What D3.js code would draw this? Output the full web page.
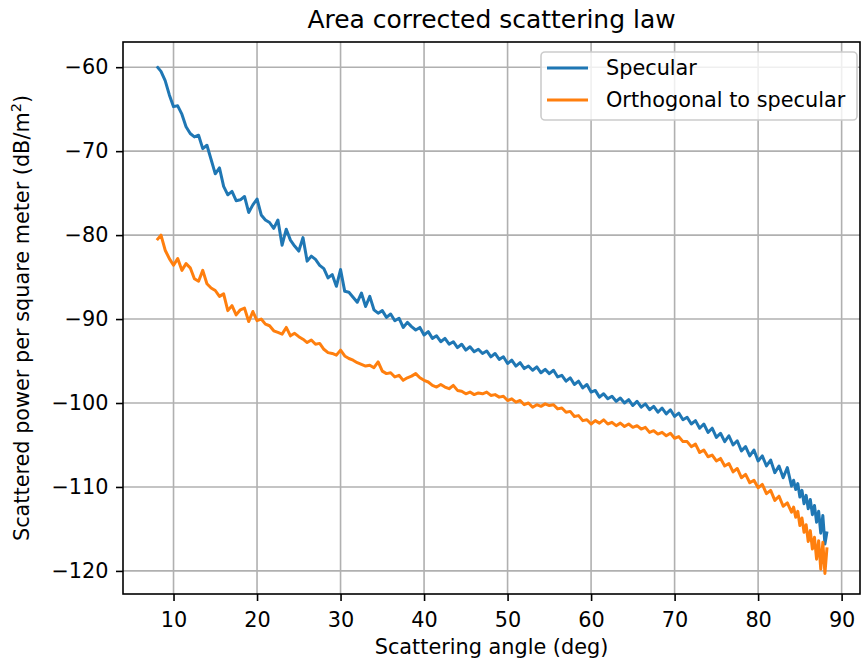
<!DOCTYPE html>
<html>
<head>
<meta charset="utf-8">
<script src="https://cdn.jsdelivr.net/npm/d3@7"></script>
<style>
  html, body { margin: 0; padding: 0; background: #fff; }
  text { font-family: "DejaVu Sans", sans-serif; }
</style>
</head>
<body>
<svg id="chart" width="861" height="662"></svg>
<script>
// ---- data ----
// samples every 0.5 deg from 8 to 84 deg, then every 0.25 deg from 84.25 to 88.25 deg
const coarseAngles = d3.range(8, 84.01, 0.5);
const fineAngles = d3.range(84.25, 88.3, 0.25);

const specular = [
  -59.9, -60.5, -61.6, -63.3, -64.7, -64.6, -65.6, -67.1, -67.9, -68.3,
  -68.1, -69.7, -69.3, -71.0, -72.7, -72.0, -74.2, -75.2, -74.8, -75.9,
  -75.8, -75.4, -77.3, -76.4, -75.7, -77.6, -78.2, -78.5, -79.2, -78.2,
  -81.2, -79.3, -80.6, -81.3, -81.9, -80.3, -83.1, -82.5, -82.9, -83.6,
  -84.0, -85.1, -84.7, -86.1, -84.1, -86.7, -86.8, -87.4, -88.0, -86.9,
  -88.5, -87.3, -88.9, -89.3, -89.0, -89.8, -89.4, -90.2, -89.9, -91.0,
  -90.4, -90.9, -91.3, -91.0, -91.9, -91.5, -92.3, -92.0, -92.7, -92.3,
  -93.0, -92.7, -93.4, -93.0, -93.7, -93.3, -93.9, -93.6, -94.1, -93.8,
  -94.5, -94.1, -94.8, -94.5, -95.3, -94.9, -95.6, -95.2, -95.9, -95.6,
  -96.1, -95.7, -96.4, -96.0, -96.5, -96.1, -96.9, -96.7, -97.4, -97.0,
  -97.8, -97.4, -98.2, -97.8, -98.7, -98.5, -99.3, -98.9, -99.5, -99.2,
  -99.8, -99.4, -100.0, -99.6, -100.3, -99.8, -100.5, -100.1, -100.8, -100.4,
  -101.1, -100.6, -101.3, -100.8, -101.6, -101.2, -102.0, -101.7, -102.5, -102.1,
  -103.0, -102.5, -103.5, -103.0, -104.1, -103.6, -104.6, -103.9, -105.0, -104.5,
  -105.7, -105.2, -106.3, -105.6, -106.9, -106.3, -107.5, -106.8, -108.3, -107.5,
  -108.9, -107.7, -109.9,
  -109.2, -110.3, -109.6, -111.2, -110.4, -112.0, -111.0, -112.6, -111.5, -113.3,
  -112.2, -114.2, -112.9, -115.5, -113.4, -116.8, -115.3
];

const orthogonal = [
  -80.6, -80.0, -81.8, -82.8, -83.6, -82.8, -84.2, -83.4, -83.9, -85.2,
  -85.5, -84.2, -85.8, -86.3, -86.6, -87.3, -87.0, -89.0, -88.4, -89.5,
  -88.9, -88.7, -90.3, -89.1, -90.2, -90.0, -90.6, -90.8, -91.4, -91.6,
  -91.8, -91.0, -92.0, -91.7, -92.1, -92.4, -92.8, -92.5, -93.0, -92.9,
  -93.6, -94.0, -94.1, -94.3, -93.7, -94.4, -94.7, -94.9, -95.2, -95.4,
  -95.6, -95.5, -95.8, -95.1, -96.2, -96.5, -96.4, -96.9, -96.7, -97.3,
  -97.0, -96.8, -96.5, -97.0, -97.3, -97.5, -97.9, -98.1, -97.8, -98.1,
  -98.3, -97.9, -98.5, -98.6, -98.9, -98.7, -99.0, -98.8, -98.9, -98.7,
  -99.1, -99.0, -99.3, -99.2, -99.7, -99.5, -99.9, -99.7, -100.2, -100.0,
  -100.5, -100.2, -100.4, -100.1, -100.3, -100.2, -100.7, -100.6, -101.1, -101.0,
  -101.6, -101.5, -102.1, -102.0, -102.5, -102.1, -102.4, -102.0, -102.5, -102.3,
  -102.7, -102.4, -102.8, -102.5, -102.9, -102.7, -103.1, -102.9, -103.5, -103.3,
  -103.7, -103.5, -103.9, -103.6, -104.2, -104.0, -104.6, -104.6, -105.2, -104.9,
  -105.9, -105.6, -106.4, -106.2, -106.9, -106.6, -107.5, -107.2, -108.2, -107.8,
  -108.9, -108.5, -109.5, -109.2, -110.1, -109.7, -110.8, -110.4, -111.6, -111.1,
  -112.3, -111.9, -113.0,
  -112.4, -113.6, -112.9, -114.6, -113.7, -115.4, -114.5, -116.5, -115.2, -117.4,
  -116.0, -118.6, -116.4, -119.8, -116.6, -120.3, -117.2
];

const seriesNames = ["Specular", "Orthogonal to specular"];
const seriesColors = ["#1f77b4", "#ff7f0e"];
const xTicks = [10, 20, 30, 40, 50, 60, 70, 80, 90];
const yTicks = [-60, -70, -80, -90, -100, -110, -120];

const titleText = "Area corrected scattering law";
const xLabelText = "Scattering angle (deg)";

// ---- layout ----
const svg = d3.select("#chart");
const plot = { left: 123, right: 860, top: 42, bottom: 594 };
const FS = 20.8;

const angles = coarseAngles.concat(fineAngles);

const x = d3.scaleLinear().domain([3.95, 92.2]).range([plot.left, plot.right]);
const y = d3.scaleLinear().domain([-122.75, -57.0]).range([plot.bottom, plot.top]);

const fmt = d => (d < 0 ? "\u2212" + Math.abs(d) : String(d));

// grid
const grid = svg.append("g");
grid.selectAll("line.gx").data(xTicks).join("line")
  .attr("x1", d => x(d)).attr("x2", d => x(d))
  .attr("y1", plot.top).attr("y2", plot.bottom)
  .attr("stroke", "#b0b0b0").attr("stroke-width", 1.6);
grid.selectAll("line.gy").data(yTicks).join("line")
  .attr("y1", d => y(d)).attr("y2", d => y(d))
  .attr("x1", plot.left).attr("x2", plot.right)
  .attr("stroke", "#b0b0b0").attr("stroke-width", 1.6);

// lines
const lineGen = d3.line().x(d => x(d[0])).y(d => y(d[1]));
[specular, orthogonal].forEach((vals, k) => {
  svg.append("path")
    .datum(vals.map((v, i) => [angles[i], v]))
    .attr("d", lineGen)
    .attr("fill", "none")
    .attr("stroke", seriesColors[k])
    .attr("stroke-width", 3)
    .attr("stroke-linejoin", "round")
    .attr("stroke-linecap", "butt");
});

// axes
const xAxis = d3.axisBottom(x).tickValues(xTicks).tickSize(7).tickPadding(11).tickFormat(fmt);
const yAxis = d3.axisLeft(y).tickValues(yTicks).tickSize(7).tickPadding(7.5).tickFormat(fmt);

const gx = svg.append("g").attr("transform", `translate(0,${plot.bottom})`).call(xAxis);
const gy = svg.append("g").attr("transform", `translate(${plot.left},0)`).call(yAxis);
[gx, gy].forEach(g => {
  g.select(".domain").remove();
  g.selectAll(".tick line").attr("stroke", "#000").attr("stroke-width", 1.6);
  g.selectAll(".tick text").attr("fill", "#000").style("font-size", FS + "px")
    .style("font-family", "'DejaVu Sans', sans-serif");
});

// frame
svg.append("rect")
  .attr("x", plot.left).attr("y", plot.top)
  .attr("width", plot.right - plot.left).attr("height", plot.bottom - plot.top)
  .attr("fill", "none").attr("stroke", "#000").attr("stroke-width", 1.6);

// title and labels
svg.append("text")
  .attr("x", (plot.left + plot.right) / 2).attr("y", 28)
  .attr("text-anchor", "middle").style("font-size", (FS * 1.2) + "px").attr("fill", "#000")
  .text(titleText);

svg.append("text")
  .attr("x", (plot.left + plot.right) / 2).attr("y", 654)
  .attr("text-anchor", "middle").style("font-size", FS + "px").attr("fill", "#000")
  .text(xLabelText);

const yl = svg.append("text")
  .attr("transform", `translate(29,${(plot.top + plot.bottom) / 2}) rotate(-90)`)
  .attr("text-anchor", "middle").style("font-size", FS + "px").attr("fill", "#000");
yl.append("tspan").text("Scattered power per square meter (dB/m");
yl.append("tspan").attr("dy", -8).style("font-size", (FS * 0.7) + "px").text("2");
yl.append("tspan").attr("dy", 8).text(")");

// legend
const leg = svg.append("g");
leg.append("rect")
  .attr("x", 541).attr("y", 52).attr("width", 316).attr("height", 68)
  .attr("rx", 4).attr("ry", 4)
  .attr("fill", "#fff").attr("fill-opacity", 0.8)
  .attr("stroke", "#cccccc").attr("stroke-width", 1.6);
seriesNames.forEach((name, k) => {
  const ly = 68 + k * 32;
  leg.append("line")
    .attr("x1", 547).attr("x2", 588).attr("y1", ly).attr("y2", ly)
    .attr("stroke", seriesColors[k]).attr("stroke-width", 3);
  leg.append("text")
    .attr("x", 606).attr("y", ly + 7)
    .style("font-size", FS + "px").attr("fill", "#000")
    .text(name);
});
</script>
</body>
</html>
